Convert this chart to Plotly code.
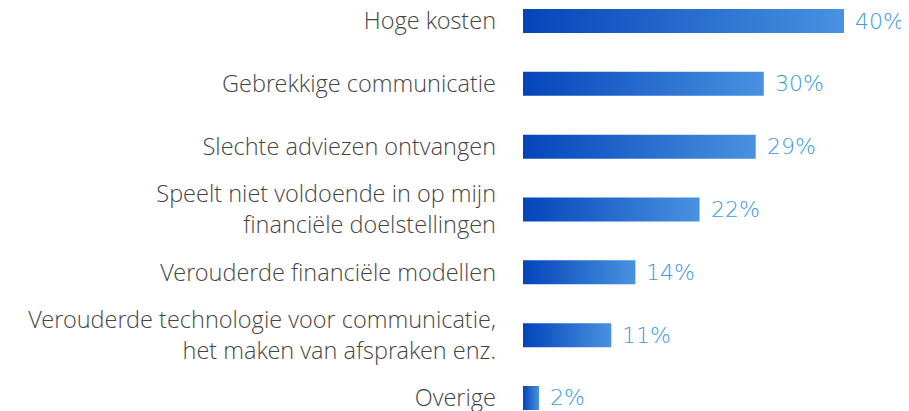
import plotly.graph_objects as go

categories = [
    "Hoge kosten",
    "Gebrekkige communicatie",
    "Slechte adviezen ontvangen",
    "Speelt niet voldoende in op mijn<br>financiële doelstellingen",
    "Verouderde financiële modellen",
    "Verouderde technologie voor communicatie,<br>het maken van afspraken enz.",
    "Overige",
]
values = [40, 30, 29, 22, 14, 11, 2]
value_labels = ["40%", "30%", "29%", "22%", "14%", "11%", "2%"]

positions = list(range(len(categories)))
half = 0.191

fig = go.Figure()
for pos, v in zip(positions, values):
    fig.add_trace(go.Scatter(
        x=[0, v, v, 0, 0],
        y=[pos - half, pos - half, pos + half, pos + half, pos - half],
        mode="lines",
        line=dict(width=0),
        fill="toself",
        fillgradient=dict(type="horizontal",
                          colorscale=[[0, "#0444BA"], [1, "#4892E0"]]),
        hoverinfo="skip",
        showlegend=False,
    ))

for pos, v, t in zip(positions, values, value_labels):
    fig.add_annotation(
        x=v, y=pos, text=t, showarrow=False, xanchor="left", yanchor="middle",
        xshift=9,
        font=dict(family="DejaVu Sans ExtraLight, DejaVu Sans", size=22,
                  color="#3C9AE0", weight=200),
    )

fig.update_layout(
    width=901, height=403,
    margin=dict(l=515, r=0, t=0, b=0, autoexpand=False),
    paper_bgcolor="white", plot_bgcolor="white",
    showlegend=False,
    xaxis=dict(range=[0, 48.1], visible=False, fixedrange=True, automargin=False),
    yaxis=dict(
        range=[6.207, -0.207],
        tickvals=positions, ticktext=categories,
        showgrid=False, zeroline=False, showline=False, ticks="",
        ticklabelstandoff=26, automargin=False, ticklabeloverflow="allow",
        tickfont=dict(family="Open Sans Light, Open Sans", size=23.5,
                      color="#444444", weight=300),
    ),
)

fig.write_html("out.html")
